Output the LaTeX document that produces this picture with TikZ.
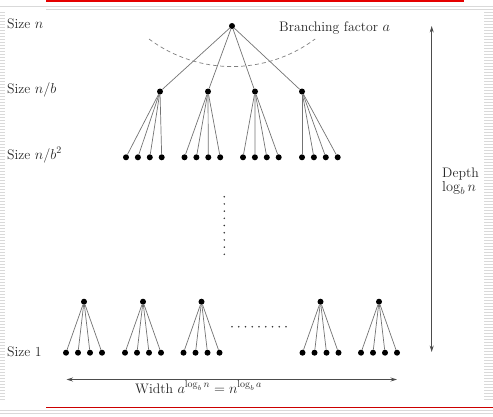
\documentclass[tikz,border=0pt]{standalone}
\usetikzlibrary{arrows.meta}
\begin{document}
\begin{tikzpicture}[x=1pt,y=-1pt,
  dot/.style={circle,fill=black,inner sep=0pt,minimum size=6pt},
  edge/.style={draw=black!55,line width=0.7pt},
  lbl/.style={font=\fontsize{13.8}{16}\selectfont,text=black!85,inner sep=0pt},
  dimarrow/.style={draw=black!70,line width=0.8pt,{Stealth[length=6.5pt,width=4pt]}-{Stealth[length=6.5pt,width=4pt]}},
  framestripe/.style={draw=black!15,line width=0.6pt},
  smalldot/.style={circle,fill=black!80,inner sep=0pt,minimum size=1.7pt}]
\useasboundingbox (0,0) rectangle (493,416);
% slide frame
\fill[red!90!black] (46,0) rectangle (464,2.3);
\draw[framestripe] (0,6) -- (493,6);
\draw[framestripe] (46,9) -- (493,9);
\foreach \yy in {12,15,...,400} {
  \draw[framestripe] (0,\yy) -- (5,\yy);
  \draw[framestripe] (484,\yy) -- (493,\yy);
}
\draw[red!80!black,line width=1pt] (46,407) -- (493,407);
\draw[framestripe] (0,410) -- (493,410);
\draw[framestripe] (0,413.5) -- (493,413.5);
% root and level 1
\node[dot] (r) at (232,26) {};
\foreach \i/\x in {1/160,2/208,3/255,4/302} {
  \node[dot] (m\i) at (\x,91.5) {};
  \draw[edge] (r) -- (m\i);
}
% level 2 leaves
\foreach \i/\xs in {1/126,2/184.5,3/243,4/302} {
  \foreach \j in {1,2,3,4} {
    \node[dot] (l\i\j) at ({\xs+(\j-1)*11.9},157.3) {};
    \draw[edge] (m\i) -- (l\i\j);
  }
}
% dashed arc
\coordinate (arcL) at (149,39);
\draw[black!50,line width=0.7pt,dash pattern=on 4pt off 3pt] (arcL) arc[start angle=126.7,end angle=53.3,radius=139];
% vertical dots
\foreach \k in {0,...,8} {
  \node[smalldot] (vd\k) at (224.3,{196.7+\k*7.2}) {};
}
% bottom trees
\foreach \i/\xc in {1/84,2/143,3/201.5,4/320.5,5/379} {
  \node[dot] (b\i) at (\xc,301.7) {};
  \foreach \j in {1,2,3,4} {
    \node[dot] (bl\i\j) at ({\xc+(\j-2.5)*12},352.7) {};
    \draw[edge] (b\i) -- (bl\i\j);
  }
}
% horizontal dots
\foreach \k in {0,...,8} {
  \node[smalldot] (hd\k) at ({232+\k*6.75},326.7) {};
}
% labels
\node[lbl,anchor=base west] (s0) at (7,28) {Size $n$};
\node[lbl,anchor=base west] (s1) at (7,93) {Size $n/b$};
\node[lbl,anchor=base west] (s2) at (7,159) {Size $n/b^2$};
\node[lbl,anchor=base west] (s3) at (7,356) {Size 1};
\node[lbl,anchor=base west] (bf) at (279,31.5) {Branching factor $a$};
% depth arrow
\coordinate (dtop) at (431.7,26);
\coordinate (dbot) at (431.7,352);
\draw[dimarrow] (dtop) -- (dbot);
\node[lbl,anchor=base west] (dep) at (442,177) {Depth};
\node[lbl,anchor=base west] (dlog) at (442,191) {$\log_b n$};
% width arrow
\coordinate (wl) at (66.5,379.5);
\coordinate (wr) at (397,379.5);
\draw[dimarrow] (wl) -- (wr);
\node[lbl,anchor=base] (wid) at (198.5,393) {Width $a^{\log_b n} = n^{\log_b a}$};
\end{tikzpicture}
\end{document}
